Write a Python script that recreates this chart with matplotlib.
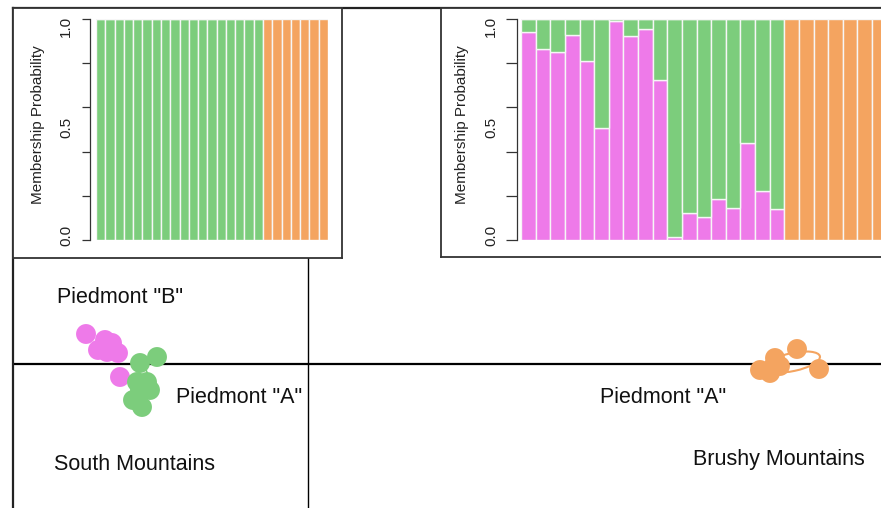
import matplotlib
matplotlib.use("Agg")
import matplotlib.pyplot as plt
from matplotlib.patches import Ellipse
from matplotlib import font_manager
import numpy as np

W, H = 881, 508

# ---- data ----
pink_x = [-4.44, -4.20, -4.06, -3.92, -4.02, -3.80, -3.76]
pink_y = [0.60, 0.28, 0.48, 0.42, 0.24, 0.22, -0.26]
green_x = [-3.02, -3.36, -3.42, -3.22, -3.16, -3.50, -3.32, -3.36]
green_y = [0.14, 0.02, -0.36, -0.36, -0.52, -0.72, -0.86, -0.52]
orange_x = [9.78, 9.34, 9.30, 9.04, 10.22, 9.24, 9.44]
orange_y = [0.30, 0.12, -0.06, -0.12, -0.10, -0.18, -0.04]

labels = ['Piedmont "B"', 'Piedmont "A"', 'South Mountains', 'Piedmont "A"', 'Brushy Mountains']
label_x = [-3.76, -1.38, -3.46, 7.10, 9.42]
label_y = [1.32, -0.68, -2.02, -0.68, -1.92]

# left inset (K=2): 18 individuals green, 7 orange
left_green = [1.0] * 18 + [0.0] * 7
left_orange = [0.0] * 18 + [1.0] * 7
# right inset (K=3)
right_pink = [0.943, 0.863, 0.852, 0.926, 0.810, 0.509, 0.992, 0.925, 0.955, 0.725,
              0.012, 0.124, 0.106, 0.187, 0.143, 0.440, 0.222, 0.139,
              0, 0, 0, 0, 0, 0, 0]
right_green = [1 - p for p in right_pink[:18]] + [0] * 7
right_orange = [0.0] * 18 + [1.0] * 7

C_GREEN = '#7CCD7C'
C_ORANGE = '#F4A460'
C_PINK = '#EE7AE9'


def pick_font(cands):
    for c in cands:
        try:
            font_manager.findfont(font_manager.FontProperties(family=c), fallback_to_default=False)
            return c
        except Exception:
            continue
    return 'DejaVu Sans'


FONT = pick_font(['Liberation Sans', 'Arimo', 'Arial', 'Noto Sans'])

fig = plt.figure(figsize=(W / 100, H / 100), dpi=100)


def box(x0, y0, x1, y1):
    return [x0 / W, 1 - y1 / H, (x1 - x0) / W, (y1 - y0) / H]


# ---- main scatter axes ----
scale = 50.0
ox, oy = 308, 364
px0, py0, px1, py1 = 13, 8, 1000, 600
ax = fig.add_axes(box(px0, py0, px1, py1))
ax.set_xlim((px0 - ox) / scale, (px1 - ox) / scale)
ax.set_ylim((oy - py1) / scale, (oy - py0) / scale)
ax.set_xticks([])
ax.set_yticks([])
for s in ax.spines.values():
    s.set_linewidth(1.6)
    s.set_color('#222222')
ax.axhline(0, color='black', lw=1.6, zorder=1)
ax.axvline(0, color='black', lw=1.0, zorder=1)

ax.add_patch(Ellipse((9.7, 0.04), 1.1, 0.36, angle=12, fill=False,
                     ec=C_ORANGE, lw=1.5, zorder=2))
ax.add_patch(Ellipse((-3.3, -0.38), 0.22, 0.62, angle=0, fill=False,
                     ec=C_GREEN, lw=1.2, zorder=2))
ax.scatter(pink_x, pink_y, s=205, c=C_PINK, edgecolors='none', zorder=3)
ax.scatter(green_x, green_y, s=205, c=C_GREEN, edgecolors='none', zorder=3)
ax.scatter(orange_x, orange_y, s=205, c=C_ORANGE, edgecolors='none', zorder=3)

for t, x, y in zip(labels, label_x, label_y):
    ax.text(x, y, t, ha='center', va='center', fontsize=15.5,
            family=[FONT, 'DejaVu Sans'], color='#111111')

# ---- inset frames ----
fl = fig.add_axes(box(13, 8, 342, 258))
fr = fig.add_axes(box(441, 8, 1000, 257))
for f in (fl, fr):
    f.set_xticks([])
    f.set_yticks([])
    f.set_facecolor('white')
    for s in f.spines.values():
        s.set_linewidth(1.3)
        s.set_color('#333333')


def bar_inset(rect, stacks, colors, spine_off, tick_len, lab_x_px, ylab_x_px):
    a = fig.add_axes(rect)
    n = len(stacks[0])
    xs = np.arange(n) + 0.5
    bottom = np.zeros(n)
    for vals, c in zip(stacks, colors):
        v = np.array(vals)
        a.bar(xs, v, width=1.0, bottom=bottom, color=c, edgecolor='#f6f6f6', linewidth=1.0)
        bottom += v
    a.set_xlim(0, n)
    a.set_ylim(0, 1)
    for k in ('top', 'right', 'bottom'):
        a.spines[k].set_visible(False)
    a.spines['left'].set_position(('outward', spine_off))
    a.spines['left'].set_bounds(0, 1)
    a.spines['left'].set_color('#333333')
    a.spines['left'].set_linewidth(0.9)
    a.set_xticks([])
    a.set_yticks([0, 0.2, 0.4, 0.6, 0.8, 1.0])
    a.set_yticklabels([])
    a.tick_params(axis='y', length=tick_len, width=0.9, color='#333333')
    a.set_facecolor('none')
    for val, txt, dy in [(0.0, '0.0', 3.0), (0.5, '0.5', 1.5), (1.0, '1.0', -5.0)]:
        a.annotate(txt, xy=(0, val), xycoords='data',
                   xytext=(lab_x_px / W, dy), textcoords=('figure fraction', 'offset points'),
                   rotation=90, ha='center', va='center', fontsize=11,
                   family=[FONT, 'DejaVu Sans'], color='#222222')
    fig.text(ylab_x_px / W, 1 - 124.5 / H, 'Membership Probability', rotation=90,
             ha='center', va='center', fontsize=11, family=[FONT, 'DejaVu Sans'],
             color='#222222')
    return a


bar_inset(box(96, 19, 328, 240), [left_green, left_orange], [C_GREEN, C_ORANGE],
          6 * 0.72, 8 * 0.72, 66, 38)
bar_inset(box(521, 19, 521 + 25 * 14.63, 240), [right_pink, right_green, right_orange],
          [C_PINK, C_GREEN, C_ORANGE], 4 * 0.72, 11 * 0.72, 491, 462)

fig.savefig('out.png', dpi=100)
